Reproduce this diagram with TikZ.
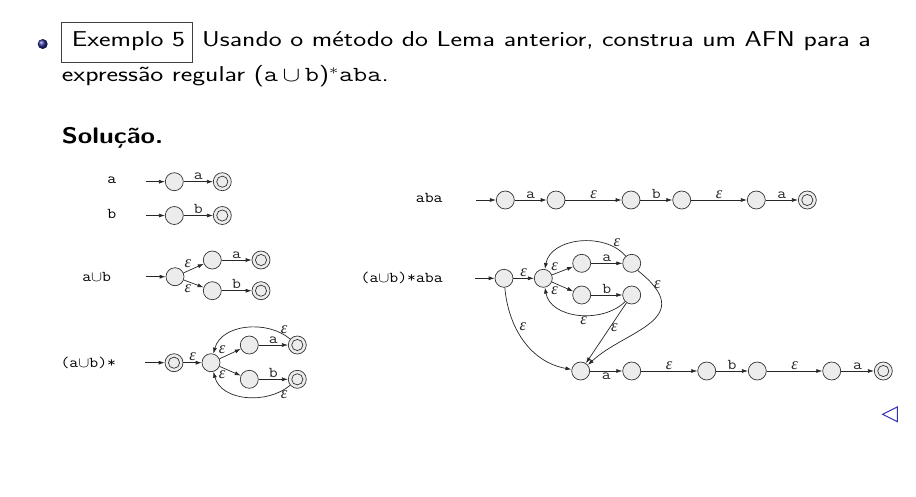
\documentclass[tikz,border=0pt]{standalone}
\usepackage{fontspec}
\newfontfamily\epsfont{Liberation Serif}
\usetikzlibrary{arrows.meta}
\definecolor{beamerblue}{RGB}{51,51,179}
\definecolor{stfill}{RGB}{236,236,236}
\newcommand{\hx}[1]{\scalebox{1.28}[1]{#1}}
\newcommand{\mx}[1]{\scalebox{1.15}[1]{#1}}
\newcommand{\eps}{\textit{ε}}
\tikzset{
  st/.style={circle, draw=black!80, fill=stfill, line width=0.7pt, minimum size=18pt, inner sep=0pt},
  acc/.style={st, path picture={\draw[black!80, line width=0.7pt] (path picture bounding box.center) circle (5.6pt);}},
  tr/.style={-{Latex[length=6pt,width=4pt]}, line width=0.7pt, black!85},
  lbl/.style={font=\fontsize{15}{15}\selectfont\ttfamily, inner sep=0pt},
  el/.style={font=\fontsize{15}{15}\selectfont\ttfamily, inner sep=1.5pt},
  eps/.style={font=\fontsize{16.5}{16.5}\selectfont\epsfont, inner sep=1.2pt},
  hdr/.style={font=\fontsize{21.5}{35}\selectfont\sffamily, inner sep=0pt, anchor=base west},
}
\begin{document}
\begin{tikzpicture}[x=1pt,y=-1pt]
\useasboundingbox (0,0) rectangle (916,496);
% header
\shade[ball color=beamerblue!80!black] (42.7,44) circle (5pt);
\node (exbox) [draw=black!75, line width=0.8pt, minimum width=130.7pt, minimum height=40pt, anchor=north west, inner sep=0pt] at (61,21.7) {};
\node (extxt) [hdr] at (71.7,46.7) {\hx{Exemplo 5}};
\node (l1) [hdr] at (202,46.7) {\hx{Usando o método do Lema anterior, construa um AFN para a}};
\node (l2) [hdr] at (61.7,81.7) {\hx{expressão regular (\texttt{a}\,$\cup$\,\texttt{b})$^*$\texttt{aba}.}};
\node (sol) [hdr, font=\fontsize{22.5}{35}\selectfont\sffamily\bfseries] at (61.7,143.3) {\scalebox{1.17}[1]{Solução.}};

% ---- a
\node[lbl] (La) at (111.7,180) {\mx{a}};
\node[st] (a0) at (174.3,181.7) {};
\node[acc] (a1) at (222.3,181.7) {};
\coordinate (ai) at (146,181.7);
\draw[tr] (ai) -- (a0);
\draw[tr] (a0) -- node[el, above] {\mx{a}} (a1);
% ---- b
\node[lbl] (Lb) at (111.7,214) {\mx{b}};
\node[st] (b0) at (174.3,215.5) {};
\node[acc] (b1) at (222.3,215.5) {};
\coordinate (bi) at (146,215.5);
\draw[tr] (bi) -- (b0);
\draw[tr] (b0) -- node[el, above] {\mx{b}} (b1);
% ---- a U b
\node[lbl] (Lu) at (96.7,276.7) {\mx{a$\cup$b}};
\node[st] (u0) at (175,276.7) {};
\node[st] (uu) at (212.3,260) {};
\node[acc] (uuf) at (261,260) {};
\node[st] (ul) at (212.3,290.7) {};
\node[acc] (ulf) at (261,290.7) {};
\coordinate (ui) at (146,276.7);
\draw[tr] (ui) -- (u0);
\draw[tr] (u0) -- node[eps, above left, pos=0.45] {\eps} (uu);
\draw[tr] (u0) -- node[eps, below left, pos=0.45] {\eps} (ul);
\draw[tr] (uu) -- node[el, above] {\mx{a}} (uuf);
\draw[tr] (ul) -- node[el, above] {\mx{b}} (ulf);
% ---- (a U b)*
\node[lbl] (Ls) at (88.3,363.3) {\mx{(a$\cup$b)*}};
\node[acc] (s0) at (174,362.7) {};
\node[st] (sc) at (211,362.7) {};
\node[st] (su) at (249.3,345) {};
\node[acc] (suf) at (297.3,345) {};
\node[st] (sl) at (249.3,379.3) {};
\node[acc] (slf) at (297.3,379.3) {};
\coordinate (si) at (145,362.7);
\draw[tr] (si) -- (s0);
\draw[tr] (s0) -- node[eps, above] {\eps} (sc);
\draw[tr] (sc) -- node[eps, above left, pos=0.35] {\eps} (su);
\draw[tr] (sc) -- node[eps, below left, pos=0.35] {\eps} (sl);
\draw[tr] (su) -- node[el, above] {\mx{a}} (suf);
\draw[tr] (sl) -- node[el, above] {\mx{b}} (slf);
\draw[tr] (suf) to[out=140,in=75] node[eps, above, pos=0.08] {\eps} (sc);
\draw[tr] (slf) to[out=-140,in=-75] node[eps, below, pos=0.08] {\eps} (sc);

% ---- aba
\node[lbl] (Laba) at (429.3,198.3) {\mx{aba}};
\node[st] (r0) at (505.3,200) {};
\node[st] (r1) at (556,200) {};
\node[st] (r2) at (631,200) {};
\node[st] (r3) at (681.7,200) {};
\node[st] (r4) at (756.3,200) {};
\node[acc] (r5) at (807.3,200) {};
\coordinate (ri) at (476,200);
\draw[tr] (ri) -- (r0);
\draw[tr] (r0) -- node[el, above] {\mx{a}} (r1);
\draw[tr] (r1) -- node[eps, above] {\eps} (r2);
\draw[tr] (r2) -- node[el, above] {\mx{b}} (r3);
\draw[tr] (r3) -- node[eps, above] {\eps} (r4);
\draw[tr] (r4) -- node[el, above] {\mx{a}} (r5);

% ---- (a U b)* aba
\node[lbl] (Lf) at (401.7,278.3) {\mx{(a$\cup$b)*aba}};
\node[st] (f0) at (504,278.3) {};
\node[st] (fc) at (543.3,278.3) {};
\node[st] (fu) at (581.7,263.3) {};
\node[st] (fu2) at (631.7,263.3) {};
\node[st] (fl) at (581.7,295) {};
\node[st] (fl2) at (631.7,295) {};
\node[st] (g0) at (580.7,371) {};
\node[st] (g1) at (631.7,371) {};
\node[st] (g2) at (706.7,371) {};
\node[st] (g3) at (757.3,371) {};
\node[st] (g4) at (831.7,371) {};
\node[acc] (g5) at (883.3,371) {};
\coordinate (fi) at (475,278.3);
\draw[tr] (fi) -- (f0);
\draw[tr] (f0) -- node[eps, above] {\eps} (fc);
\draw[tr] (fc) -- node[eps, above left, pos=0.35] {\eps} (fu);
\draw[tr] (fc) -- node[eps, below left, pos=0.35] {\eps} (fl);
\draw[tr] (fu) -- node[el, above] {\mx{a}} (fu2);
\draw[tr] (fl) -- node[el, above] {\mx{b}} (fl2);
\draw[tr] (fu2) to[out=130,in=80] node[eps, above, pos=0.12] {\eps} (fc);
\draw[tr] (fl2) to[out=-135,in=-80] node[eps, below, pos=0.45] {\eps} (fc);
\draw[tr] (fu2.-50) .. controls (700,320) and (625,330) .. node[eps, right, pos=0.1] {\eps} (g0.40);
\draw[tr] (fl2) -- node[eps, right, pos=0.42] {\eps} (g0);
\draw[tr] (f0) to[out=-85,in=170] node[eps, above right, pos=0.4] {\eps} (g0);
\draw[tr] (g0) -- node[el, below] {\mx{a}} (g1);
\draw[tr] (g1) -- node[eps, above] {\eps} (g2);
\draw[tr] (g2) -- node[el, above] {\mx{b}} (g3);
\draw[tr] (g3) -- node[eps, above] {\eps} (g4);
\draw[tr] (g4) -- node[el, above] {\mx{a}} (g5);

% navigation triangle
\draw[beamerblue, line width=1pt, line join=miter] (897.3,407) -- (882.7,414.3) -- (897.3,421.7) -- cycle;
\end{tikzpicture}
\end{document}
